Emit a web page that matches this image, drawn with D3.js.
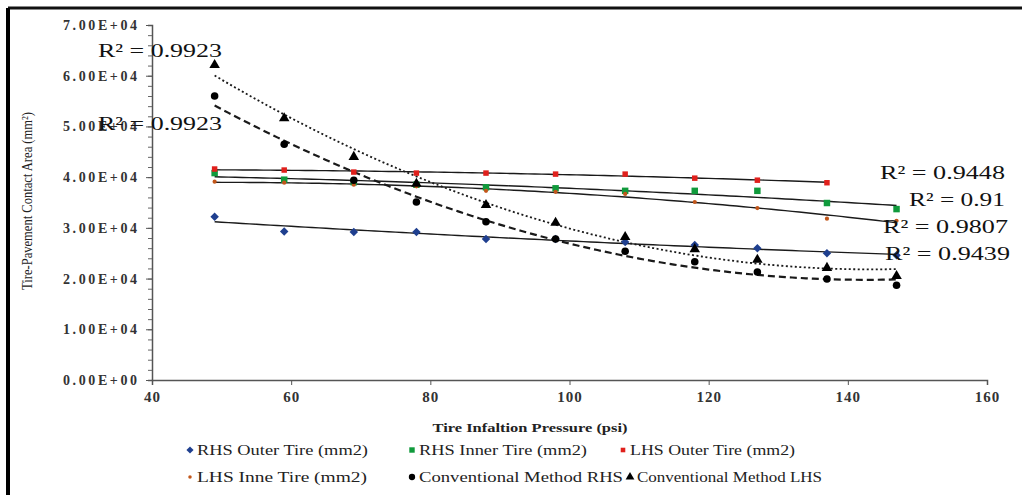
<!DOCTYPE html>
<html>
<head>
<meta charset="utf-8">
<script src="https://cdn.jsdelivr.net/npm/d3@7"></script>
<style>
  html, body { margin: 0; padding: 0; background: #fff; }
  text { font-family: "Liberation Serif", "DejaVu Serif", serif; }
</style>
</head>
<body>
<div id="chart"></div>
<script>
// values
var pressure = [49, 59, 69, 78, 88, 98, 108, 118, 127, 137, 147];
var rhsOuter = [32200, 29300, 29200, 29200, 27800, 27800, 27200, 26600, 26000, 25000, 24600];
var rhsInner = [40800, 39500, 39000, 38500, 38000, 37800, 37300, 37300, 37300, 34900, 33700];
var lhsOuter = [41600, 41400, 41000, 40800, 40800, 40600, 40600, 39800, 39400, 38900];
var lhsInner = [39100, 38900, 38500, 38200, 37300, 37100, 36700, 35100, 33900, 31800, 31400];
var convRhs = [56000, 46500, 39400, 35100, 31200, 27800, 25400, 23300, 21300, 19900, 18700];
var convLhs = [62100, 51600, 44000, 38700, 34500, 31000, 28200, 25800, 23700, 22100, 20500];
var xTicks = [40, 60, 80, 100, 120, 140, 160];
var yTicks = [0, 10000, 20000, 30000, 40000, 50000, 60000, 70000];

// a square turned 45 degrees, closer to the Excel diamond than d3.symbolDiamond
var diamond = {
  draw: function(ctx, size) {
    var r = Math.sqrt(size / 2);
    ctx.moveTo(0, -r); ctx.lineTo(r, 0); ctx.lineTo(0, r); ctx.lineTo(-r, 0); ctx.closePath();
  }
};

var series = [
  {name: 'RHS Outer Tire (mm2)', values: rhsOuter, shape: diamond, size: 36, color: '#1f3f8f', line: 'solid'},
  {name: 'RHS Inner Tire (mm2)', values: rhsInner, shape: d3.symbolSquare, size: 42, color: '#109a3c', line: 'solid'},
  {name: 'LHS Outer Tire (mm2)', values: lhsOuter, shape: d3.symbolSquare, size: 30, color: '#e0201c', line: 'solid'},
  {name: 'LHS Inne Tire (mm2)', values: lhsInner, shape: d3.symbolCircle, size: 14, color: '#c2561a', line: 'solid'},
  {name: 'Conventional Method RHS', values: convRhs, shape: d3.symbolCircle, size: 45, color: '#000', line: 'dash'},
  {name: 'Conventional Method LHS', values: convLhs, shape: d3.symbolTriangle, size: 48, color: '#000', line: 'dot'}
];

// R² labels: [text, x-left, x-right, baseline]
var r2Labels = [
  ['R² = 0.9923', 98, 222, 57],
  ['R² = 0.9923', 98, 222, 130],
  ['R² = 0.9448', 880, 1005, 179],
  ['R² = 0.91', 909, 1005, 206],
  ['R² = 0.9807', 883, 1008, 233],
  ['R² = 0.9439', 885, 1010, 260]
];

var width = 1022, height = 495;

var svg = d3.select('#chart').append('svg')
    .attr('width', width)
    .attr('height', height);

var x = d3.scaleLinear().domain([40, 160]).range([152, 987]),
    y = d3.scaleLinear().domain([0, 70000]).range([380, 25]);

// frame (only top and left edges visible in the crop)
svg.append('line').attr('x1', 8).attr('y1', 8).attr('x2', width).attr('y2', 8)
  .attr('stroke', '#111').attr('stroke-width', 3);
svg.append('line').attr('x1', 8).attr('y1', 8).attr('x2', 8).attr('y2', height)
  .attr('stroke', '#000').attr('stroke-width', 4);

// least squares polynomial, like the Excel trendline
function polyfit(xs, ys, deg) {
  var n = deg + 1, A = [], i, j, k;
  for (i = 0; i < n; i++) {
    A.push([]);
    for (j = 0; j < n; j++) A[i].push(d3.sum(xs, function(v) { return Math.pow(v, i + j); }));
    A[i].push(d3.sum(xs, function(v, idx) { return Math.pow(v, i) * ys[idx]; }));
  }
  for (i = 0; i < n; i++) {
    var p = i;
    for (k = i + 1; k < n; k++) if (Math.abs(A[k][i]) > Math.abs(A[p][i])) p = k;
    var t = A[i]; A[i] = A[p]; A[p] = t;
    for (k = i + 1; k < n; k++) {
      var f = A[k][i] / A[i][i];
      for (j = i; j <= n; j++) A[k][j] -= f * A[i][j];
    }
  }
  var c = new Array(n);
  for (i = n - 1; i >= 0; i--) {
    var s = A[i][n];
    for (j = i + 1; j < n; j++) s -= A[i][j] * c[j];
    c[i] = s / A[i][i];
  }
  return function(v) { return d3.sum(c, function(ci, idx) { return ci * Math.pow(v, idx); }); };
}

// axes
var yAxis = svg.append('g').attr('transform', 'translate(152,0)')
  .call(d3.axisLeft(y).tickValues(d3.range(0, 70001, 2000)).tickSize(4).tickFormat(''));
yAxis.selectAll('line').attr('stroke', '#666');
yAxis.select('.domain').attr('stroke', '#555').attr('stroke-width', 1.5);

var yMajor = svg.append('g').attr('transform', 'translate(152,0)')
  .call(d3.axisLeft(y).tickValues(yTicks).tickSize(6).tickPadding(9)
    .tickFormat(function(d) { return d === 0 ? '0.00E+00' : (d / 1e4).toFixed(2) + 'E+04'; }));
yMajor.select('.domain').remove();
yMajor.selectAll('line').attr('stroke', '#555');
yMajor.selectAll('text')
  .attr('font-family', '"Liberation Serif", serif')
  .attr('font-size', 14).attr('font-weight', 'bold').attr('fill', '#333')
  .attr('textLength', 74).attr('lengthAdjust', 'spacing');

var xAxis = svg.append('g').attr('transform', 'translate(0,380)')
  .call(d3.axisBottom(x).tickValues(xTicks).tickSize(5).tickPadding(6));
xAxis.select('.domain').attr('stroke', '#555').attr('stroke-width', 1.5);
xAxis.selectAll('line').attr('stroke', '#555');
xAxis.selectAll('text')
  .attr('font-family', '"Liberation Serif", serif')
  .attr('font-size', 15).attr('font-weight', 'bold').attr('fill', '#333')
  .attr('letter-spacing', 1);

// axis titles
svg.append('text')
  .attr('x', 530).attr('y', 432).attr('text-anchor', 'middle')
  .attr('font-size', 13).attr('font-weight', 'bold').attr('fill', '#222')
  .attr('textLength', 195).attr('lengthAdjust', 'spacingAndGlyphs')
  .text('Tire Infaltion Pressure (psi)');

svg.append('text')
  .attr('transform', 'translate(32,201) rotate(-90)')
  .attr('text-anchor', 'middle')
  .attr('font-size', 14).attr('fill', '#222')
  .attr('textLength', 178).attr('lengthAdjust', 'spacingAndGlyphs')
  .text('Tire-Pavement Contact Area (mm²)');

// trend lines
var dashes = {solid: null, dash: '7,4', dot: '2,2.5'},
    widths = {solid: 1.4, dash: 2.2, dot: 1.8};

series.forEach(function(s) {
  var xs = pressure.slice(0, s.values.length),
      fit = polyfit(xs, s.values, 2),
      pts = d3.range(xs[0], xs[xs.length - 1] + 0.01, 1);
  svg.append('path')
    .datum(pts)
    .attr('fill', 'none')
    .attr('stroke', '#1a1a1a')
    .attr('stroke-width', widths[s.line])
    .attr('stroke-dasharray', dashes[s.line])
    .attr('d', d3.line().x(function(d) { return x(d); }).y(function(d) { return y(fit(d)); }));
});

// markers
series.forEach(function(s) {
  svg.append('g').selectAll('path')
    .data(s.values)
    .join('path')
    .attr('transform', function(d, i) { return 'translate(' + x(pressure[i]) + ',' + y(d) + ')'; })
    .attr('d', d3.symbol().type(s.shape).size(s.size))
    .attr('fill', s.color);
});

// R² labels
svg.append('g').selectAll('text')
  .data(r2Labels)
  .join('text')
  .attr('x', function(d) { return d[1]; })
  .attr('y', function(d) { return d[3]; })
  .attr('font-size', 19).attr('fill', '#111')
  .attr('textLength', function(d) { return d[2] - d[1]; })
  .attr('lengthAdjust', 'spacingAndGlyphs')
  .text(function(d) { return d[0]; });

// legend
var legendPos = [
  [190, 450, 368], [412, 450, 587], [623, 450, 795],
  [190, 477, 367], [412, 477, 623], [630, 477, 822]
];
var legend = svg.append('g').selectAll('g')
  .data(series)
  .join('g')
  .attr('transform', function(d, i) { return 'translate(' + legendPos[i][0] + ',' + legendPos[i][1] + ')'; });

legend.append('path')
  .attr('d', function(d) { return d3.symbol().type(d.shape).size(d.size * 0.7)(); })
  .attr('fill', function(d) { return d.color; });

legend.append('text')
  .attr('x', 7).attr('dy', '0.35em')
  .attr('font-size', 14).attr('fill', '#222')
  .attr('textLength', function(d, i) { return legendPos[i][2] - legendPos[i][0] - 7; })
  .attr('lengthAdjust', 'spacingAndGlyphs')
  .text(function(d) { return d.name; });
</script>
</body>
</html>
